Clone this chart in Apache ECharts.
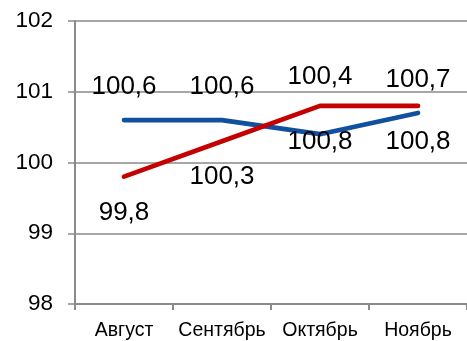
<!DOCTYPE html>
<html>
<head>
<meta charset="utf-8">
<script src="https://cdn.jsdelivr.net/npm/echarts@6/dist/echarts.min.js"></script>
<style>
  html, body { margin: 0; padding: 0; background: #ffffff; }
  #chart { width: 467px; height: 341px; }
</style>
</head>
<body>
<div id="chart"></div>
<script>
// Monthly indices, August–November
var months = ['Август', 'Сентябрь', 'Октябрь', 'Ноябрь'];
var seriesBlue = [100.6, 100.6, 100.4, 100.7];
var seriesRed = [99.8, 100.3, 100.8, 100.8];
var yTicks = [98, 99, 100, 101, 102];

var FONT = '"Liberation Sans", Arial, sans-serif';
var GRID_GRAY = '#8a8a8a';
var BLUE = '#11509f';
var RED = '#c40000';

function fmt(v) {
  return v.toFixed(1).replace('.', ',');
}

// Value labels sit above the blue line and below the red one;
// the October blue label is lifted higher to clear the red line.
function blueData() {
  return seriesBlue.map(function (v, i) {
    var item = { value: v };
    if (i === 2) item.label = { offset: [0, -57] };
    return item;
  });
}

var chart = echarts.init(document.getElementById('chart'), null, { renderer: 'canvas' });

chart.setOption({
  animation: false,
  backgroundColor: '#ffffff',
  grid: { left: 75, right: 0, top: 21, bottom: 37 },
  xAxis: {
    type: 'category',
    data: months,
    boundaryGap: true,
    axisLine: { lineStyle: { color: GRID_GRAY, width: 2 } },
    axisTick: { show: true, length: 6, lineStyle: { color: GRID_GRAY, width: 2 } },
    axisLabel: { color: '#000', fontFamily: FONT, fontSize: 19.5, margin: 17, interval: 0 }
  },
  yAxis: {
    type: 'value',
    min: yTicks[0],
    max: yTicks[yTicks.length - 1],
    interval: 1,
    axisLine: { show: true, lineStyle: { color: GRID_GRAY, width: 2 } },
    axisTick: { show: true, length: 7, lineStyle: { color: GRID_GRAY, width: 1.5 } },
    splitLine: { show: true, lineStyle: { color: GRID_GRAY, width: 1.5 } },
    axisLabel: {
      color: '#000', fontFamily: FONT, fontSize: 22.5, margin: 22,
      formatter: function (v) { return String(v); }
    }
  },
  series: [
    {
      name: 'blue',
      type: 'line',
      data: blueData(),
      symbol: 'circle',
      symbolSize: 2,
      showSymbol: true,
      itemStyle: { color: BLUE },
      lineStyle: { color: BLUE, width: 4.7, cap: 'round', join: 'round' },
      z: 2,
      label: {
        show: true,
        position: 'inside',
        offset: [0, -33],
        color: '#000',
        fontFamily: FONT,
        fontSize: 26,
        formatter: function (p) { return fmt(p.value); }
      }
    },
    {
      name: 'red',
      type: 'line',
      data: seriesRed,
      symbol: 'circle',
      symbolSize: 2,
      showSymbol: true,
      itemStyle: { color: RED },
      lineStyle: { color: RED, width: 4.7, cap: 'round', join: 'round' },
      z: 3,
      label: {
        show: true,
        position: 'inside',
        offset: [0, 36],
        color: '#000',
        fontFamily: FONT,
        fontSize: 26,
        formatter: function (p) { return fmt(p.value); }
      }
    }
  ]
});
</script>
</body>
</html>
